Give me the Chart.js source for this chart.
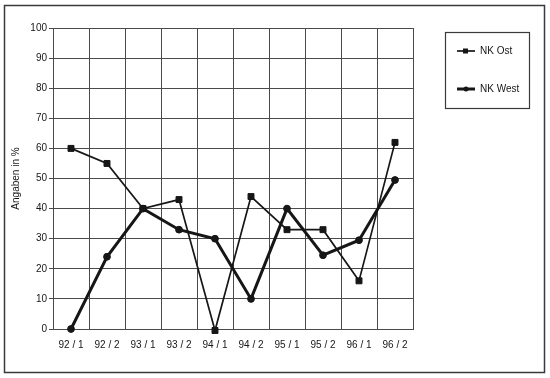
<!DOCTYPE html>
<html>
<head>
<meta charset="utf-8">
<script src="https://cdn.jsdelivr.net/npm/chart.js@4.4.0/dist/chart.umd.min.js"></script>
<style>
  html, body { margin: 0; padding: 0; background: #fff; }
</style>
</head>
<body>
<canvas id="chart" width="550" height="378"></canvas>
<script>
// periods (year / half-year)
const periods = ['92 / 1', '92 / 2', '93 / 1', '93 / 2', '94 / 1', '94 / 2', '95 / 1', '95 / 2', '96 / 1', '96 / 2'];
// share in percent
const nkOst = [60, 55, 40, 43, -0.5, 44, 33, 33, 16, 62];
const nkWest = [0, 24, 40, 33, 30, 10, 40, 24.5, 29.5, 49.5];
const yTicks = [0, 10, 20, 30, 40, 50, 60, 70, 80, 90, 100];

const ink = '#161616';
const gridColor = '#4a4a4a';
const fontFamily = '"Liberation Sans", Arial, sans-serif';

// draws the outer frame and the boxed legend
const framePlugin = {
  id: 'frame',
  beforeDraw(chart) {
    const ctx = chart.ctx;
    ctx.save();
    ctx.fillStyle = '#fff';
    ctx.fillRect(0, 0, chart.width, chart.height);
    ctx.strokeStyle = '#3a3a3a';
    ctx.lineWidth = 1.5;
    ctx.strokeRect(4.5, 5.5, 540, 367);
    ctx.restore();
  },
  afterDraw(chart) {
    const ctx = chart.ctx;
    ctx.save();
    ctx.strokeStyle = '#3a3a3a';
    ctx.lineWidth = 1.2;
    ctx.strokeRect(445.5, 32.5, 84, 76);

    // one legend row for each dataset
    chart.data.datasets.forEach((ds, i) => {
      const y = 51 + i * 38;
      ctx.strokeStyle = ink;
      ctx.lineWidth = ds.borderWidth;
      ctx.beginPath();
      ctx.moveTo(457, y);
      ctx.lineTo(475, y);
      ctx.stroke();
      ctx.fillStyle = ink;
      if (ds.pointStyle === 'rect') {
        ctx.fillRect(463, y - 2.5, 5, 5);
      } else {
        ctx.beginPath();
        ctx.arc(466, y, 2.5, 0, Math.PI * 2);
        ctx.fill();
      }
      ctx.font = '10px ' + fontFamily;
      ctx.textBaseline = 'middle';
      ctx.fillText(ds.label, 480, y);
    });
    ctx.restore();
  }
};

new Chart(document.getElementById('chart'), {
  type: 'line',
  data: {
    labels: periods,
    datasets: [
      {
        label: 'NK Ost',
        data: nkOst,
        borderColor: ink,
        backgroundColor: ink,
        borderWidth: 1.7,
        pointStyle: 'rect',
        pointRadius: 4.2,
        pointBorderWidth: 1,
        tension: 0,
        clip: false
      },
      {
        label: 'NK West',
        data: nkWest,
        borderColor: ink,
        backgroundColor: ink,
        borderWidth: 3,
        pointStyle: 'circle',
        pointRadius: 3.4,
        pointBorderWidth: 1,
        tension: 0,
        clip: false
      }
    ]
  },
  options: {
    responsive: false,
    animation: false,
    layout: { padding: { left: 0, top: 28, right: 137, bottom: 0 } },
    plugins: {
      legend: { display: false },
      tooltip: { enabled: false }
    },
    scales: {
      x: {
        offset: true,
        grid: { color: gridColor, lineWidth: 1, drawTicks: false, offset: true },
        border: { color: gridColor },
        ticks: { color: ink, font: { family: fontFamily, size: 10 }, padding: 10, maxRotation: 0, autoSkip: false },
        afterFit(scale) { scale.height = 49; }
      },
      y: {
        min: 0,
        max: 100,
        afterBuildTicks(scale) { scale.ticks = yTicks.map(v => ({ value: v })); },
        grid: { color: gridColor, lineWidth: 1, tickLength: 4 },
        border: { color: gridColor },
        ticks: { color: ink, font: { family: fontFamily, size: 10 }, padding: 2 },
        title: {
          display: true,
          text: 'Angaben in %',
          color: ink,
          font: { family: fontFamily, size: 10 },
          padding: { top: 10, bottom: 0 }
        },
        afterFit(scale) { scale.width = 53; }
      }
    }
  },
  plugins: [framePlugin]
});
</script>
</body>
</html>
